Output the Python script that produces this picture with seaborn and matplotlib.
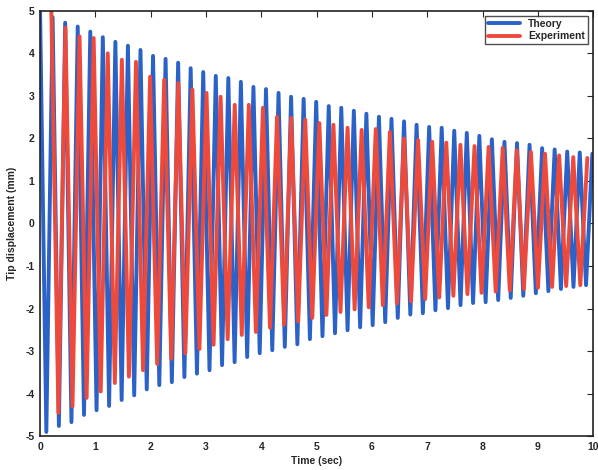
import numpy as np
import pandas as pd
import matplotlib
matplotlib.use('Agg')
import matplotlib.pyplot as plt
import seaborn as sns

# Theory: peak / trough amplitudes (mm), one per half cycle
theory_period = 0.2269   # sec
theory_peaks = [5.00, 4.85, 4.72, 4.63, 4.51, 4.38, 4.27, 4.18, 4.08, 3.94,
                3.87, 3.78, 3.65, 3.56, 3.47, 3.42, 3.33, 3.21, 3.16, 3.07,
                2.98, 2.93, 2.86, 2.76, 2.72, 2.65, 2.58, 2.51, 2.46, 2.40,
                2.32, 2.27, 2.25, 2.18, 2.13, 2.06, 1.98, 1.92, 1.89, 1.85,
                1.77, 1.74, 1.69, 1.67, 1.64]
theory_troughs = [-4.90, -4.76, -4.67, -4.50, -4.39, -4.29, -4.15, -4.04, -3.90, -3.80,
                  -3.73, -3.61, -3.53, -3.45, -3.33, -3.26, -3.14, -3.05, -2.98, -2.90,
                  -2.84, -2.72, -2.65, -2.58, -2.51, -2.44, -2.39, -2.32, -2.22, -2.14,
                  -2.11, -2.04, -1.99, -1.92, -1.87, -1.85, -1.80, -1.75, -1.70, -1.64,
                  -1.59, -1.54, -1.49, -1.45]

# Experiment: first peak time, period and peak / trough amplitudes
exp_start = 0.204
exp_period = 0.255
exp_peaks = [5.00, 4.60, 4.40, 4.36, 4.00, 3.85, 3.80, 3.45, 3.38, 3.30,
             3.15, 3.07, 2.98, 2.79, 2.79, 2.72, 2.51, 2.48, 2.44, 2.36,
             2.32, 2.25, 2.20, 2.22, 2.15, 2.00, 1.96, 1.92, 1.90, 1.85,
             1.82, 1.80, 1.78, 1.72, 1.68, 1.64, 1.60, 1.56, 1.54]
exp_troughs = [-4.45, -4.30, -4.10, -3.95, -3.75, -3.60, -3.45, -3.30, -3.18, -3.05,
               -2.95, -2.85, -2.72, -2.62, -2.55, -2.45, -2.38, -2.30, -2.22, -2.15,
               -2.08, -2.02, -1.97, -1.92, -1.88, -1.83, -1.78, -1.74, -1.70, -1.66,
               -1.63, -1.60, -1.57, -1.54, -1.51, -1.49, -1.47, -1.45]


def interleave(peaks, troughs):
    vals = []
    for i, p in enumerate(peaks):
        vals.append(p)
        if i < len(troughs):
            vals.append(troughs[i])
    return np.array(vals)


th_y = interleave(theory_peaks, theory_troughs)
th_t = np.arange(len(th_y)) * theory_period / 2
ex_y = interleave(exp_peaks, exp_troughs)
ex_t = exp_start + np.arange(len(ex_y)) * exp_period / 2

df = pd.concat([
    pd.DataFrame({'time': th_t, 'disp': th_y, 'series': 'Theory'}),
    pd.DataFrame({'time': ex_t, 'disp': ex_y, 'series': 'Experiment'}),
])

sns.set_style('white')
plt.rcParams['font.family'] = ['Liberation Sans', 'DejaVu Sans']
plt.rcParams['font.weight'] = 'bold'
plt.rcParams['axes.unicode_minus'] = False

fig = plt.figure(figsize=(5.98, 4.70), dpi=100)
ax = fig.add_axes([0.067, 0.072, 0.925, 0.905])

sns.lineplot(data=df, x='time', y='disp', hue='series', estimator=None, sort=False,
             palette={'Theory': '#2a62c8', 'Experiment': '#ee4a3c'},
             linewidth=2.8, ax=ax)

ax.set_xlim(0, 10)
ax.set_ylim(-5, 5)
ax.set_xticks(range(0, 11))
ax.set_yticks(range(-5, 6))
ax.tick_params(direction='in', top=True, right=True, length=4, labelsize=7.5,
               width=0.8, pad=4)
for lab in ax.get_xticklabels() + ax.get_yticklabels():
    lab.set_fontweight('bold')
for s in ax.spines.values():
    s.set_visible(True)
    s.set_color('#222222')
    s.set_linewidth(1.2)

ax.set_xlabel('Time (sec)', fontsize=7.5, fontweight='bold', labelpad=3)
ax.set_ylabel('Tip displacement (mm)', fontsize=7.5, fontweight='bold', labelpad=6)

leg = ax.legend(loc='upper right', fontsize=7.5, frameon=True, fancybox=False,
                borderaxespad=0.5, handlelength=3.0, borderpad=0.3, labelspacing=0.2)
leg.get_frame().set_edgecolor('#222222')
leg.get_frame().set_linewidth(1.0)
for t in leg.get_texts():
    t.set_fontweight('bold')

fig.savefig('out.png', dpi=100)
